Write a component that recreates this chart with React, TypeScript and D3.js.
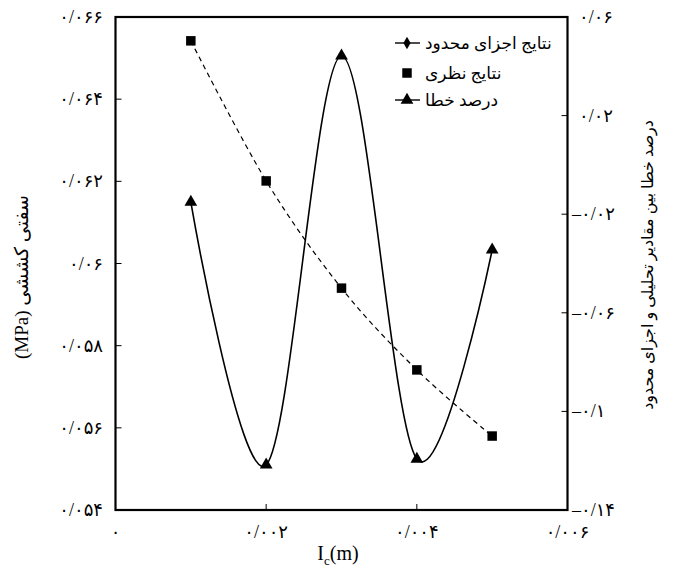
import React from "react";
import * as d3 from "d3";

// data
const lengths = [0.001, 0.002, 0.003, 0.004, 0.005];
const theoryStiffness = [0.06542, 0.06201, 0.0594, 0.05741, 0.0558];
const errorPercent = [-0.0151, -0.1217, 0.0442, -0.1193, -0.0345];

const xTicks = [0, 0.002, 0.004, 0.006];
const leftTicks = [0.054, 0.056, 0.058, 0.06, 0.062, 0.064, 0.066];
const rightTicks = [-0.14, -0.1, -0.06, -0.02, 0.02, 0.06];

const legendLabels = ["نتایج اجزای محدود", "نتایج نظری", "درصد خطا"];
const leftTitle = "(MPa) سفتی کششی";
const rightTitle = "درصد خطا بین مقادیر تحلیلی و اجزای محدود";

const width = 674;
const height = 571;
const left = 115.5;
const right = 567.5;
const top = 17;
const bottom = 510;

const font = "'Liberation Serif', 'DejaVu Sans', serif";
const faDigits = "۰۱۲۳۴۵۶۷۸۹";
const fa = (v: number) =>
  String(+v.toFixed(4))
    .replace(/\d/g, (d) => faDigits[+d])
    .replace(".", "/")
    .replace("-", "–");

const x = d3.scaleLinear().domain([0, 0.006]).range([left, right]);
const yLeft = d3.scaleLinear().domain([0.054, 0.066]).range([bottom, top]);
const yRight = d3.scaleLinear().domain([-0.14, 0.06]).range([bottom, top]);

const smooth = d3.curveCatmullRom.alpha(0);

const theoryLine = d3
  .line<number>()
  .x((d, i) => x(lengths[i]))
  .y((d) => yLeft(d))
  .curve(smooth);

const errorLine = d3
  .line<number>()
  .x((d, i) => x(lengths[i]))
  .y((d) => yRight(d))
  .curve(smooth);

const triangle = d3.symbol().type(d3.symbolTriangle).size(70);
const square = d3.symbol().type(d3.symbolSquare).size(90);
const diamond = d3.symbol().type(d3.symbolDiamond).size(45);

export default function App() {
  const legendX = 407;
  const legendRows = [43, 73, 100];
  return (
    <svg
      width={width}
      height={height}
      style={{ position: "absolute", left: 0, top: 0, background: "#fff" }}
      fontFamily={font}
    >
      {/* curves */}
      <path
        d={theoryLine(theoryStiffness) || ""}
        fill="none"
        stroke="#000"
        strokeWidth={1.2}
        strokeDasharray="5,4"
      />
      <path
        d={errorLine(errorPercent) || ""}
        fill="none"
        stroke="#000"
        strokeWidth={1.6}
      />
      {theoryStiffness.map((d, i) => (
        <path
          key={"s" + i}
          d={square() || ""}
          transform={`translate(${x(lengths[i])},${yLeft(d)})`}
          fill="#000"
        />
      ))}
      {errorPercent.map((d, i) => (
        <path
          key={"t" + i}
          d={triangle() || ""}
          transform={`translate(${x(lengths[i])},${yRight(d)})`}
          fill="#000"
        />
      ))}

      {/* frame */}
      <rect
        x={left}
        y={top}
        width={right - left}
        height={bottom - top}
        fill="none"
        stroke="#000"
        strokeWidth={2.2}
      />

      {/* left axis */}
      {leftTicks.map((t) => (
        <g key={"l" + t}>
          <line x1={left} x2={left + 6} y1={yLeft(t)} y2={yLeft(t)} stroke="#000" />
          <text x={103} y={yLeft(t) + 6} textAnchor="end" fontSize={18} letterSpacing={1}>
            {fa(t)}
          </text>
        </g>
      ))}

      {/* right axis */}
      {rightTicks.map((t) => (
        <g key={"r" + t}>
          <line x1={right - 6} x2={right} y1={yRight(t)} y2={yRight(t)} stroke="#000" />
          <text x={t < 0 ? 572 : 579} y={yRight(t) + 6} textAnchor="start" fontSize={18} letterSpacing={1}>
            {fa(t)}
          </text>
        </g>
      ))}

      {/* bottom axis */}
      {xTicks.map((t) => (
        <g key={"x" + t}>
          {t > 0 && t < 0.006 && (
            <line x1={x(t)} x2={x(t)} y1={bottom} y2={bottom - 6} stroke="#000" />
          )}
          <text x={x(t)} y={538} textAnchor="middle" fontSize={18} letterSpacing={1}>
            {fa(t)}
          </text>
        </g>
      ))}

      {/* titles */}
      <text
        transform="translate(28,277) rotate(-90)"
        textAnchor="middle"
        fontSize={19}
      >
        {leftTitle}
      </text>
      <text
        transform="translate(653,265) rotate(-90)"
        textAnchor="middle"
        fontSize={16}
      >
        {rightTitle}
      </text>
      <text x={338} y={560} textAnchor="middle" fontSize={20}>
        I
        <tspan fontSize={13} dy={5}>
          c
        </tspan>
        <tspan dy={-5}>(m)</tspan>
      </text>

      {/* legend */}
      <line x1={395} x2={420} y1={legendRows[0]} y2={legendRows[0]} stroke="#000" strokeWidth={1.4} />
      <path d={diamond() || ""} transform={`translate(${legendX},${legendRows[0]})`} fill="#000" />
      <path d={square() || ""} transform={`translate(${legendX},${legendRows[1]})`} fill="#000" />
      <line x1={395} x2={420} y1={legendRows[2]} y2={legendRows[2]} stroke="#000" strokeWidth={1.4} />
      <path d={triangle() || ""} transform={`translate(${legendX},${legendRows[2]})`} fill="#000" />
      {legendLabels.map((label, i) => (
        <text key={label} x={425} y={legendRows[i] + 6} fontSize={17} textAnchor="start">
          {label}
        </text>
      ))}
    </svg>
  );
}
